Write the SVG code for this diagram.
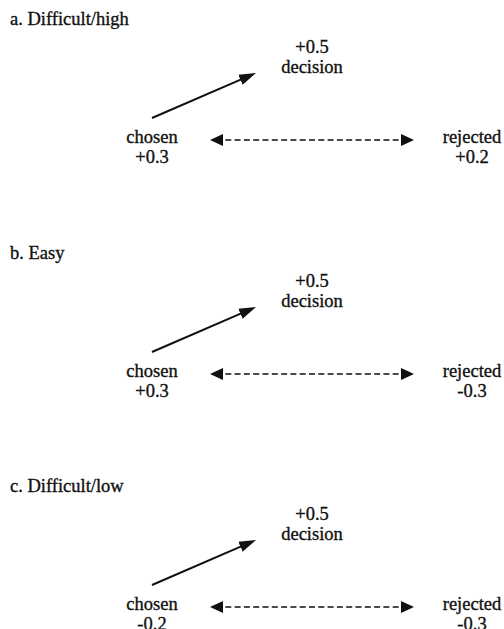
<svg xmlns="http://www.w3.org/2000/svg" width="504" height="629" viewBox="0 0 504 629">
<style>
text{font-family:"Liberation Serif","DejaVu Serif","Times New Roman",serif;font-size:18.5px;fill:#111;stroke:#111;stroke-width:0.35}
.c{text-anchor:middle}
.solid{stroke:#111;stroke-width:2;fill:none}
.dash{stroke:#111;stroke-width:1.6;fill:none;stroke-dasharray:6 3.3}
</style>
<defs>
<marker id="hs" markerUnits="userSpaceOnUse" viewBox="0 -7 20 14" refX="9" refY="0" markerWidth="20" markerHeight="14" orient="auto">
<path d="M0,-5.5 L17,0 L0,5.5 Z" fill="#111"/>
</marker>
<marker id="hd" markerUnits="userSpaceOnUse" viewBox="0 -7 16 14" refX="7" refY="0" markerWidth="16" markerHeight="14" orient="auto-start-reverse">
<path d="M0,-6 L13,0 L0,6 Z" fill="#111"/>
</marker>
</defs>
<rect width="504" height="629" fill="#fff"/>

<g id="panel-a">
<text id="title-a" x="10" y="25">a. Difficult/high</text>
<g id="a-decision"><text class="c" x="312" y="53">+0.5</text><text class="c" x="312" y="73">decision</text></g>
<g id="a-chosen"><text class="c" x="152" y="143">chosen</text><text class="c" x="152" y="163">+0.3</text></g>
<g id="a-rejected"><text class="c" x="472" y="143">rejected</text><text class="c" x="472" y="163">+0.2</text></g>
</g>

<g id="panel-b" transform="translate(0,234)">
<text id="title-b" x="10" y="25">b. Easy</text>
<g id="b-decision"><text class="c" x="312" y="53">+0.5</text><text class="c" x="312" y="73">decision</text></g>
<g id="b-chosen"><text class="c" x="152" y="143">chosen</text><text class="c" x="152" y="163">+0.3</text></g>
<g id="b-rejected"><text class="c" x="472" y="143">rejected</text><text class="c" x="472" y="163">-0.3</text></g>
</g>

<g id="panel-c" transform="translate(0,467)">
<text id="title-c" x="10" y="25">c. Difficult/low</text>
<g id="c-decision"><text class="c" x="312" y="53">+0.5</text><text class="c" x="312" y="73">decision</text></g>
<g id="c-chosen"><text class="c" x="152" y="143">chosen</text><text class="c" x="152" y="163">-0.2</text></g>
<g id="c-rejected"><text class="c" x="472" y="143">rejected</text><text class="c" x="472" y="163">-0.3</text></g>
</g>

<g id="connectors">
<line class="solid" x1="152" y1="118" x2="248.7" y2="76.2" marker-end="url(#hs)"/>
<line class="dash" x1="216" y1="140" x2="408" y2="140" marker-start="url(#hd)" marker-end="url(#hd)"/>
<line class="solid" x1="152" y1="352" x2="248.7" y2="310.2" marker-end="url(#hs)"/>
<line class="dash" x1="216" y1="374" x2="408" y2="374" marker-start="url(#hd)" marker-end="url(#hd)"/>
<line class="solid" x1="152" y1="585" x2="248.7" y2="543.2" marker-end="url(#hs)"/>
<line class="dash" x1="216" y1="607" x2="408" y2="607" marker-start="url(#hd)" marker-end="url(#hd)"/>
</g>
</svg>
